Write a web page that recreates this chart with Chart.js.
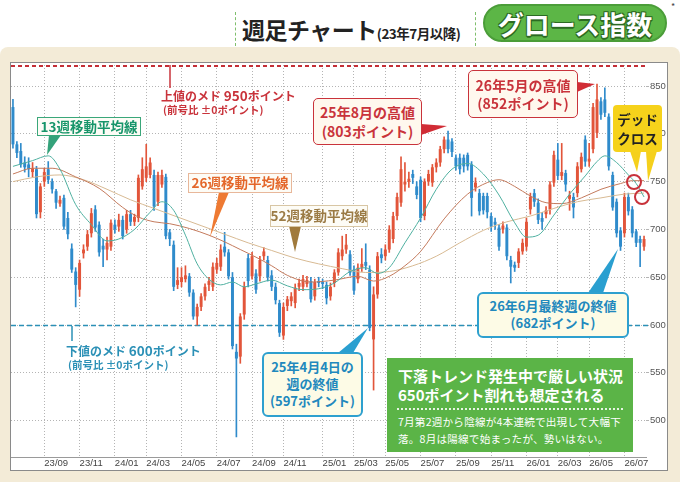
<!DOCTYPE html>
<html lang="ja">
<head>
<meta charset="utf-8">
<script src="https://cdn.jsdelivr.net/npm/chart.js@4.4.1/dist/chart.umd.min.js"></script>
<style>
  html, body { margin: 0; padding: 0; }
  body {
    width: 680px; height: 482px; position: relative; overflow: hidden; background: #fff;
    font-family: "Noto Sans CJK JP", "Noto Sans", sans-serif;
  }
  .abs { position: absolute; }
  .cream { left: 0; top: 47px; width: 680px; height: 435px; background: #f3ebd7; border-radius: 8px 8px 0 0; }
  .box { left: 10px; top: 62px; width: 658px; height: 409px; box-sizing: border-box; background: #fff; border: 1px solid #8a8a8a; }
  .wrap { left: 11px; top: 63px; width: 656px; height: 407px; }
  .dash { top: 12px; height: 34px; border-left: 1px dashed #7fbf6c; }
  .title { left: 242px; top: 12px; font-size: 23px; font-weight: 700; color: #222; white-space: nowrap; letter-spacing: -0.5px; }
  .title small { font-size: 13.5px; letter-spacing: -0.5px; }
  .pill {
    left: 483px; top: 4px; width: 184px; height: 38px; box-sizing: border-box; border-radius: 19px;
    background: #5cb646; border: 2px solid #4b9d39; color: #fff; font-size: 26px; font-weight: 700;
    display: flex; align-items: center; justify-content: center;
    text-shadow: 1px 1px 0 #2c6a22, -1px -1px 0 #2c6a22, 1px -1px 0 #2c6a22, -1px 1px 0 #2c6a22, 0 2px 0 #2c6a22;
  }
  .note { font-weight: 700; white-space: nowrap; line-height: 1.2; }
  .tag {
    box-sizing: border-box; display: flex; flex-direction: column; align-items: center; justify-content: center;
    font-weight: 700; white-space: nowrap; line-height: 1.3;
  }
  .ma { background: #fdfcf6; font-size: 13.5px; border: 1px solid; }
  .red { background: #fff8ee; border: 1.5px solid #c9333b; color: #c9333b; border-radius: 5px; font-size: 14px; }
  .blue { background: #fdfbe6; border: 2px solid #2ea0cf; color: #2188bd; border-radius: 6px; font-size: 13px; }
  .green { left: 387px; top: 358px; width: 246px; height: 94px; background: #5bb447; color: #fff; }
</style>
</head>
<body>
<div class="abs cream"></div>
<div class="abs dash" style="left:235px"></div>
<div class="abs title">週足チャート<small>(23年7月以降)</small></div>
<div class="abs dash" style="left:475px"></div>
<div class="abs pill">グロース指数</div>
<div class="abs" style="left:671px; top:0px; font-size:9px; color:#444">*</div>

<div class="abs box"></div>
<div class="abs wrap"><canvas id="chart"></canvas></div>

<svg class="abs" style="left:0; top:0" width="680" height="482">
  <line x1="170" y1="65" x2="170" y2="88" stroke="#c9333b" stroke-width="1.5"/>
  <line x1="72" y1="326" x2="72" y2="341" stroke="#2b90b6" stroke-width="1.5"/>
  <polygon points="49,135 61,135 47,155" fill="#34a27a"/>
  <polygon points="219,192 229,192 210,237" fill="#ee7a33"/>
  <polygon points="289,226 301,226 295,252" fill="#a07a3c"/>
  <polygon points="421,124 447,126 421,135" fill="#d12c35"/>
  <polygon points="577,82 595,84 577,92" fill="#d12c35"/>
  <polygon points="630,151 641,151 637,172" fill="#f5d01c"/>
  <polygon points="646,151 657,151 648,181" fill="#f5d01c"/>
  <circle cx="634" cy="182" r="7" fill="none" stroke="#c8323a" stroke-width="2"/>
  <circle cx="642" cy="197" r="7" fill="none" stroke="#c8323a" stroke-width="2"/>
  <polygon points="338,353 353,353 368,328" fill="#2a9fd0"/>
  <polygon points="588,293 603,293 618,249" fill="#2a9fd0"/>
</svg>

<div class="abs note" style="left:161px; top:87px; color:#c9333b; font-size:12px">上値のメド <span style="font-size:13.5px">950</span>ポイント</div>
<div class="abs note" style="left:163px; top:104px; color:#c9333b; font-size:10.5px">(前号比 ±0ポイント)</div>
<div class="abs note" style="left:66px; top:342px; color:#2b90b6; font-size:12px">下値のメド <span style="font-size:13.5px">600</span>ポイント</div>
<div class="abs note" style="left:68px; top:359px; color:#2b90b6; font-size:10.5px">(前号比 ±0ポイント)</div>

<div class="abs tag ma" style="left:37px; top:117px; width:104px; height:19px; color:#17956a; border-color:#3aa77a">13週移動平均線</div>
<div class="abs tag ma" style="left:188px; top:173px; width:104px; height:20px; color:#e4672a; border-color:#e8b79a">26週移動平均線</div>
<div class="abs tag ma" style="left:270px; top:205px; width:98px; height:22px; color:#9b7b45; border-color:#d8c6a4">52週移動平均線</div>

<div class="abs tag red" style="left:313px; top:98px; width:109px; height:47px">25年8月の高値<span>(803ポイント)</span></div>
<div class="abs tag red" style="left:468px; top:70px; width:110px; height:48px">26年5月の高値<span>(852ポイント)</span></div>
<div class="abs tag" style="left:613px; top:105px; width:49px; height:47px; background:#f6d21b; color:#222; border-radius:4px; font-size:13.5px; line-height:1.35">デッド<span>クロス</span></div>

<div class="abs tag blue" style="left:262px; top:352px; width:101px; height:65px">25年4月4日の<span>週の終値</span><span>(597ポイント)</span></div>
<div class="abs tag blue" style="left:477px; top:292px; width:152px; height:46px">26年6月最終週の終値<span>(682ポイント)</span></div>

<div class="abs green">
  <div class="abs note" style="left:11px; top:9px; font-size:15px">下落トレンド発生中で厳しい状況</div>
  <div class="abs note" style="left:11px; top:28px; font-size:15px">650ポイント割れも想定される</div>
  <div class="abs" style="left:10px; top:50px; width:226px; border-top:2px dotted rgba(255,255,255,0.85)"></div>
  <div class="abs" style="left:11px; top:56px; font-size:10.6px; white-space:nowrap; letter-spacing:0.2px">7月第2週から陰線が4本連続で出現して大幅下</div>
  <div class="abs" style="left:11px; top:73px; font-size:10.6px; white-space:nowrap; letter-spacing:0.2px">落。8月は陽線で始まったが、勢いはない。</div>
</div>

<script>
// weekly candles, first week ends 2023-07-07
const firstWeek = new Date(2023, 6, 7)

const opens = [828,789,782,770,768,760,763,718,750,763, 750,740,727,733,712,680,656,637,675,682,
  696,721,705,683,679,682,705,703,710,700, 716,708,712,745,754,757,757,729,747,755,
  697,684,642,645,648,651,634,609,619,630, 642,640,658,661,682,676,650,572,567,611,
  670,651,654,651,672,668,652,640,623,589, 620,625,623,640,640,643,646,630,646,645,
  642,630,644,655,672,679,674,658,648,660, 666,658,585,632,674,672,679,690,714,728,
  747,750,758,745,752,714,750,749,765,770, 784,794,792,775,775,775,778,768,744,738,
  735,735,714,708,702,700,702,668,663,665, 677,682,721,738,728,712,716,721,749,773,
  756,759,732,734,738,763,794,771,784,801, 834,836,818,757,729,699,696,734,721,698,
  690,682]
const highs = [836,792,790,776,775,770,766,748,764,771, 753,742,735,736,718,685,660,668,684,699,
  722,725,708,690,692,710,710,716,714,720, 720,716,757,775,789,775,762,760,762,758,
  700,688,660,660,662,654,637,622,633,643, 650,665,670,684,697,679,655,580,612,645,
  674,676,658,672,681,672,657,644,626,623, 630,634,643,648,652,651,650,648,650,648,
  645,644,658,680,693,695,678,662,664,680, 685,662,640,676,680,684,704,718,738,776,
  770,760,762,750,755,753,762,768,774,787, 797,803,795,778,779,778,780,771,754,742,
  738,738,717,712,705,708,705,672,666,680, 690,712,738,742,732,718,724,750,782,790,
  790,762,740,738,770,780,798,790,832,852, 838,848,821,760,732,702,738,738,724,700,
  693,693]
const lows = [785,775,765,760,755,755,712,712,745,748, 738,722,724,700,690,655,619,630,670,678,
  692,698,672,661,668,678,696,698,690,696, 704,704,708,742,750,754,720,725,744,690,
  683,636,638,640,645,630,606,600,615,626, 636,636,654,657,672,648,575,483,560,606,
  640,648,633,646,668,646,636,622,588,585, 615,620,618,636,636,640,624,626,640,638,
  622,626,640,652,668,675,652,632,644,656, 658,594,532,628,665,668,676,686,710,724,
  740,744,748,732,708,710,746,745,760,766, 780,780,776,762,758,760,762,714,740,715,
  716,712,698,700,678,696,668,644,656,660, 674,678,716,724,706,700,712,716,745,752,
  752,740,720,712,734,760,766,766,780,796, 815,818,762,720,692,678,692,715,692,682,
  661,678]
const closes = [789,780,768,765,763,764,716,745,760,752, 742,728,731,703,695,658,642,665,679,695,
  717,702,676,679,686,707,700,710,693,716, 708,713,754,763,766,770,724,757,757,693,
  690,640,647,650,652,634,609,619,630,640, 646,661,665,679,676,651,578,565,609,640,
  646,672,637,668,677,650,640,626,592,619, 627,630,639,644,648,647,627,645,644,643,
  628,640,655,676,679,684,655,636,660,664, 662,597,632,672,670,679,700,714,734,763,
  750,753,754,736,712,750,758,765,770,784, 794,784,781,766,763,766,766,733,749,719,
  720,718,703,705,682,704,672,661,660,677, 686,708,734,729,710,708,720,747,778,756,
  760,747,736,723,766,776,771,774,828,836, 820,822,766,723,696,682,734,719,696,686,
  686,690]

// moving averages: week index / value
const ma13Weeks = [0,5,9,12,16,20,24,27,31,35,38,41,44,47,50,53,56,59,62,66,70,74,78,82,86,90,93,96,100,104,108,112,116,120,124,128,131,134,138,142,146,149,151,154,157,159,161]
const ma13Vals = [766,772,777,763,726,705,688,690,700,718,729,720,694,664,648,642,645,640,643,647,641,637,638,644,656,660,654,660,686,712,742,763,769,758,736,707,692,694,715,737,756,771,777,770,757,748,734]
const ma26Weeks = [0,5,10,16,22,28,32,36,40,45,50,54,58,62,66,70,76,82,88,92,96,100,104,110,116,121,124,128,132,136,140,145,150,155,158,161]
const ma26Vals = [758,764,764,755,743,723,713,708,706,701,694,687,679,671,662,652,645,647,651,646,651,662,677,711,737,749,752,745,735,728,727,733,742,748,751,751]
const ma52Weeks = [0,6,12,18,24,30,36,42,48,54,60,66,72,78,84,90,96,102,108,114,120,126,132,138,144,150,156,161]
const ma52Vals = [750,755,757,752,742,731,722,713,704,695,686,678,670,664,659,655,656,662,672,686,699,708,714,722,729,733,737,738]

const yTicks = [500,550,600,650,700,750,800,850]
const xTickWeeks = [8,17,26,34,43,52,61,69,79,87,95,104,113,122,131,139,147,156]
const xTickLabels = ['23/09','23/11','24/01','24/03','24/05','24/07','24/09','24/11','25/01','25/03','25/05','25/07','25/09','25/11','26/01','26/03','26/05','26/07']
const lowerTarget = 600

const weekLabels = opens.map((o, i) => {
    let d = new Date(firstWeek.getTime() + i * 7 * 86400000)
    return d.getFullYear() + '/' + (d.getMonth() + 1) + '/' + d.getDate()
})

const upColor = '#e2553a'
const downColor = '#2f8bcb'
const candleColors = opens.map((o, i) => closes[i] >= o ? upColor : downColor)

const spread = (weeks, vals) => {
    let arr = opens.map(() => null)
    weeks.forEach((w, k) => { arr[w] = vals[k] })
    return arr
}

const refLines = {
    id: 'refLines',
    beforeDatasetsDraw(chart) {
        const {ctx, chartArea, scales} = chart
        ctx.save()
        // 600 support line
        let py = Math.round(scales.y.getPixelForValue(lowerTarget)) + 0.5
        ctx.strokeStyle = '#2b90b6'
        ctx.lineWidth = 1.6
        ctx.setLineDash([5, 3])
        ctx.beginPath()
        ctx.moveTo(chartArea.left, py)
        ctx.lineTo(chartArea.right + 4, py)
        ctx.stroke()
        // 950 is above the scale, so it sits on the top edge
        ctx.strokeStyle = '#c42f36'
        ctx.lineWidth = 2
        ctx.setLineDash([4, 3])
        ctx.beginPath()
        ctx.moveTo(chartArea.left, chartArea.top + 1)
        ctx.lineTo(chartArea.right, chartArea.top + 1)
        ctx.stroke()
        ctx.restore()
    }
}

const maLine = (label, weeks, vals, color) => ({
    type: 'line',
    label: label,
    data: spread(weeks, vals),
    borderColor: color,
    borderWidth: 1,
    pointRadius: 0,
    spanGaps: true,
    cubicInterpolationMode: 'monotone',
    order: 0
})

new Chart(document.querySelector('#chart'), {
    type: 'bar',
    data: {
        labels: weekLabels,
        datasets: [
            maLine('13週', ma13Weeks, ma13Vals, '#4fb0a0'),
            maLine('26週', ma26Weeks, ma26Vals, '#c47a5c'),
            maLine('52週', ma52Weeks, ma52Vals, '#d8ba93'),
            {
                label: 'body',
                data: opens.map((o, i) => [o, closes[i]]),
                backgroundColor: candleColors,
                barPercentage: 0.75,
                categoryPercentage: 1,
                grouped: false,
                order: 1
            },
            {
                label: 'wick',
                data: lows.map((l, i) => [l, highs[i]]),
                backgroundColor: candleColors,
                barThickness: 1,
                grouped: false,
                order: 2
            }
        ]
    },
    options: {
        responsive: true,
        maintainAspectRatio: false,
        animation: false,
        events: [],
        layout: { padding: { top: 2, left: 0, right: 0, bottom: 0 } },
        scales: {
            x: {
                offset: true,
                afterFit: (s) => { s.height = 13; s.paddingLeft = 0; s.paddingRight = 0 },
                afterBuildTicks: (s) => { s.ticks = xTickWeeks.map(v => ({ value: v })) },
                ticks: {
                    autoSkip: false,
                    maxRotation: 0,
                    align: 'start',
                    padding: 1,
                    color: '#444',
                    font: { family: 'Liberation Sans', size: 9.5 },
                    callback: (value, index) => xTickLabels[index]
                },
                grid: { offset: false, color: '#b4b4b4', drawTicks: false, tickLength: 0 },
                border: { display: true, color: '#9a9a9a', dash: [1, 2] }
            },
            y: {
                position: 'right',
                min: 462,
                max: 872,
                afterFit: (s) => { s.width = 21; s.paddingTop = 0; s.paddingBottom = 0 },
                afterBuildTicks: (s) => { s.ticks = yTicks.map(v => ({ value: v })) },
                ticks: {
                    padding: 1,
                    color: '#555',
                    font: { family: 'Liberation Sans', size: 9.5 }
                },
                grid: { color: '#b4b4b4', tickLength: 3 },
                border: { display: false, dash: [1, 2] }
            }
        },
        plugins: {
            legend: { display: false },
            tooltip: { enabled: false }
        }
    },
    plugins: [refLines]
})
</script>
</body>
</html>
